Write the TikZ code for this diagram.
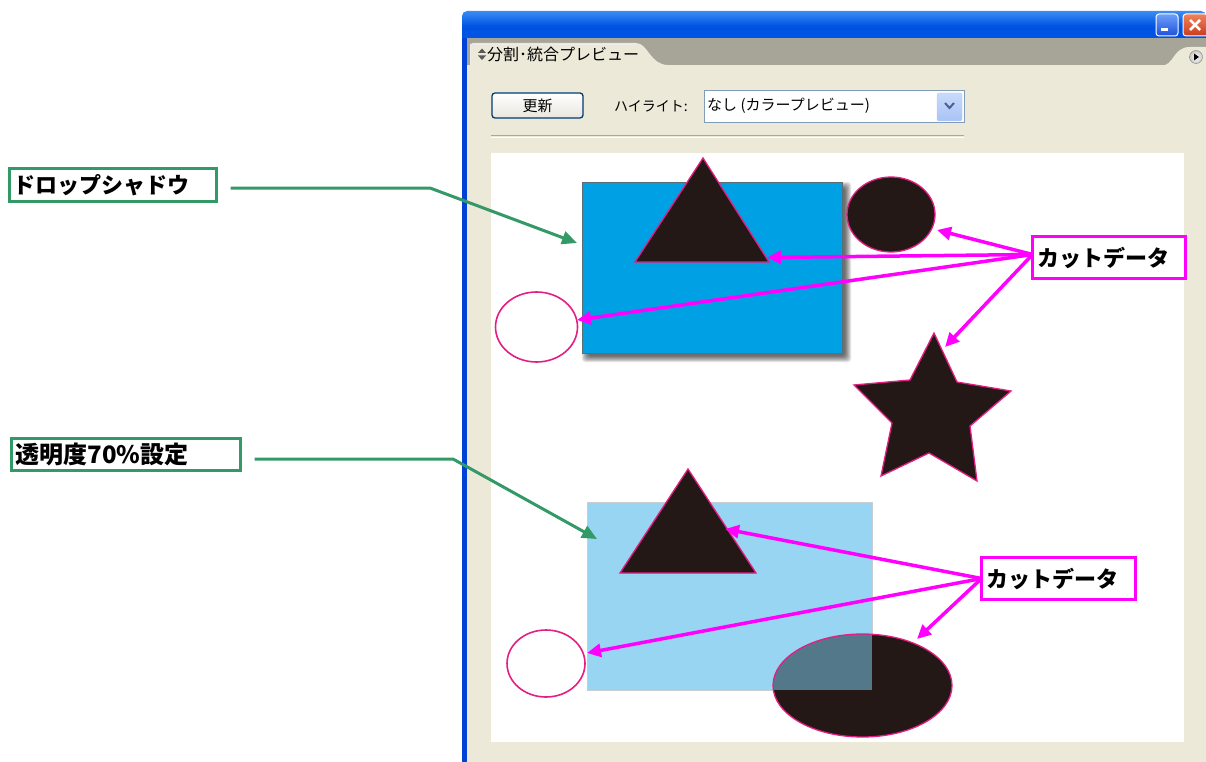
\documentclass[tikz,border=0pt]{standalone}
\usepackage{fontspec}
\newfontfamily\jp{Noto Sans CJK JP}
\usetikzlibrary{arrows.meta}
\definecolor{beige}{RGB}{236,233,216}
\definecolor{tabgray}{RGB}{167,165,152}
\definecolor{xpblue}{RGB}{0,84,227}
\definecolor{xpbluetop}{RGB}{60,140,245}
\definecolor{xpbluebot}{RGB}{0,66,214}
\definecolor{gline}{RGB}{51,153,102}
\definecolor{magenta1}{RGB}{255,0,255}
\definecolor{pinkedge}{RGB}{228,30,130}
\definecolor{inkblack}{RGB}{35,24,21}
\definecolor{cyanfill}{RGB}{0,160,228}
\definecolor{lightcyan}{RGB}{151,213,243}
\definecolor{overlapc}{RGB}{82,120,138}
\definecolor{btnborder}{RGB}{0,60,116}
\definecolor{ddborder}{RGB}{127,157,185}
\definecolor{sepgray}{RGB}{172,168,153}
\definecolor{minitop}{RGB}{110,160,250}
\definecolor{minibot}{RGB}{30,80,220}
\definecolor{closetop}{RGB}{240,130,90}
\definecolor{closebot}{RGB}{200,60,30}
\definecolor{circout}{RGB}{200,200,195}
\definecolor{btnbot}{RGB}{232,230,222}
\definecolor{ddbtntop}{RGB}{200,218,252}
\definecolor{ddbtnbot}{RGB}{170,195,245}
\definecolor{ddbtnedge}{RGB}{185,205,245}
\definecolor{chevron}{RGB}{77,97,152}
\definecolor{rectedge}{RGB}{90,110,120}
\definecolor{ltedge}{RGB}{200,205,210}
\tikzset{
  greenbox/.style={draw=gline, line width=3pt, fill=white, anchor=north west,
    outer sep=0pt, inner xsep=4pt, inner ysep=0pt, align=left},
  magbox/.style={draw=magenta1, line width=3pt, fill=white, anchor=north west,
    outer sep=0pt, inner xsep=5pt, inner ysep=0pt, align=left,
    font=\jp\bfseries\fontsize{22}{26}\selectfont},
  garrow/.style={draw=gline, line width=3pt, -{Triangle[length=15pt,width=13pt]}},
  marrow/.style={draw=magenta1, line width=3.5pt, -{Triangle[length=14pt,width=13pt]}},
  shapeedge/.style={draw=pinkedge, line width=1.3pt},
  uitext/.style={anchor=west, inner sep=0pt, text=black},
}
\begin{document}
\begin{tikzpicture}[x=1pt,y=-1pt]
\useasboundingbox (0,0) rectangle (1206,762);
\fill[white] (0,0) rectangle (1206,762);

% ---------- window frame ----------
\fill[beige] (467,38) rectangle (1206,762);
\fill[xpbluebot] (462,30) rectangle (467,762);
\shade[top color=xpbluetop, bottom color=xpbluebot, middle color=xpblue, rounded corners=5pt]
  (462,11) rectangle (1206,40);
\fill[xpblue] (462,30) rectangle (1206,38);
% title buttons
\shade[top color=minitop, bottom color=minibot,
  draw=white, line width=1pt, rounded corners=3pt] (1156,14) rectangle (1178,36);
\fill[white] (1161,28) rectangle (1168,31);
\shade[top color=closetop, bottom color=closebot,
  draw=white, line width=1pt, rounded corners=3pt] (1183,14) rectangle (1208,36);
\draw[white, line width=2.5pt] (1190,20) -- (1200,30) (1200,20) -- (1190,30);

% tab band
\fill[tabgray] (467,38) rectangle (1206,65);
\fill[beige] (470,65) -- (470,46) to[rounded corners=3pt] (470,43) -- (636,43)
  .. controls (648,43) and (650,65) .. (668,65) -- cycle;
\draw[white!85!gray, line width=0.8pt] (470,65) -- (470,44) -- (636,44);
\fill[beige] (1160,66) .. controls (1175,66) and (1172,47) .. (1190,47) -- (1206,47) -- (1206,66) -- cycle;
\shade[inner color=white, outer color=circout, draw=gray] (1196,57) circle (6.5);
\fill[black] (1194,53.5) -- (1199,57) -- (1194,60.5) -- cycle;
% tab icon and text
\fill[gray!70!black] (478,53) -- (486,53) -- (482,48.5) -- cycle;
\fill[gray!70!black] (478,55.5) -- (486,55.5) -- (482,60) -- cycle;
\node[uitext, font=\jp\fontsize{16}{18}\selectfont] (tabtext) at (487,54) {分割･統合プレビュー};

% button
\shade[top color=white, bottom color=btnbot, draw=btnborder,
  line width=1.3pt, rounded corners=3pt] (492,93) rectangle (583,118);
\node[font=\jp\fontsize{15}{17}\selectfont, inner sep=0pt] (update) at (537.5,106) {更新};
\node[uitext, font=\jp\fontsize{14}{16}\selectfont] (hl) at (614,106) {ハイライト:};
% dropdown
\draw[ddborder, fill=white, line width=1pt] (704,91) rectangle (964,123);
\shade[top color=ddbtntop, bottom color=ddbtnbot,
  draw=ddbtnedge, rounded corners=2pt] (937,93) rectangle (962,121);
\draw[chevron, line width=2pt] (945,103) -- (949.5,108) -- (954,103);
\node[uitext, font=\jp\fontsize{15}{17}\selectfont] (dd) at (707,106) {なし (カラープレビュー)};
% separator
\draw[sepgray, line width=1pt] (491,136) -- (964,136);
\draw[white, line width=1pt] (491,137.2) -- (964,137.2);

% ---------- preview area ----------
\fill[white] (491,153) rectangle (1184,742);

% drop shadow
\foreach \i in {0,1,...,6}{
  \fill[black, opacity=0.11, rounded corners=3pt]
    (582+\i,182+\i) rectangle (851-\i,362-\i);
}
\node[draw=rectedge, line width=0.8pt, fill=cyanfill,
  anchor=north west, minimum width=260pt, minimum height=171pt, inner sep=0pt, outer sep=0pt]
  (bluerect) at (582,182) {};
% triangle 1
\filldraw[fill=inkblack, shapeedge] (703,158) -- (769,262) -- (635,262) -- cycle;
% circle top right
\filldraw[fill=inkblack, shapeedge] (891,214.5) ellipse [x radius=44, y radius=37.5];
% open ellipse
\draw[shapeedge, line width=1.6pt] (536.5,327) ellipse [x radius=41, y radius=35];
% star
\filldraw[fill=inkblack, shapeedge] (934,333) -- (957,382) -- (1011,391) -- (970,426) -- (977,481)
  -- (929,453) -- (881,476) -- (892,423) -- (854,385) -- (910,380) -- cycle;

% transparent rect
\node[draw=ltedge, line width=0.8pt, fill=lightcyan,
  anchor=north west, minimum width=285pt, minimum height=188pt, inner sep=0pt, outer sep=0pt]
  (ltrect) at (587,502) {};
% triangle 2
\filldraw[fill=inkblack, shapeedge] (688,469) -- (756,573) -- (620,573) -- cycle;
% small open circle
\draw[shapeedge, line width=1.6pt] (546,663.5) ellipse [x radius=39, y radius=33.5];
% black ellipse with overlap
\fill[inkblack] (862.5,685.5) ellipse [x radius=89.5, y radius=51.5];
\begin{scope}
  \clip (862.5,685.5) ellipse [x radius=89.5, y radius=51.5];
  \fill[overlapc] (770,630) rectangle (872,690);
\end{scope}
\draw[shapeedge] (862.5,685.5) ellipse [x radius=89.5, y radius=51.5];

% ---------- labels ----------
\node[greenbox, text width=199pt, minimum height=33pt,
  font=\jp\bfseries\fontsize{22}{26}\selectfont] (ds) at (9.5,168.5) {ドロップシャドウ};
\node[greenbox, text width=221pt, minimum height=32pt,
  font=\jp\bfseries\fontsize{24}{28}\selectfont] (tr) at (11.5,438.5) {透明度70\%設定};
\node[magbox, text width=143pt, minimum height=42pt] (cd1) at (1032.5,236.5) {カットデータ};
\node[magbox, text width=144pt, minimum height=42pt] (cd2) at (981.5,557.5) {カットデータ};

% ---------- connector coordinates ----------
\coordinate (dsbend) at (430,188);
\coordinate (dstip) at (577,243);
\coordinate (trbend) at (453,459);
\coordinate (trtip) at (597,539);
\coordinate (tcirc) at (937,230);
\coordinate (ttri1) at (767,257.5);
\coordinate (topen1) at (577,320);
\coordinate (tstar) at (945,347);
\coordinate (ttri2) at (725,529);
\coordinate (topen2) at (587,653);
\coordinate (tell) at (917,639);

% green connectors
\draw[garrow, shorten <=14pt] ([yshift=-3pt]ds.east) -- (dsbend) -- (dstip);
\draw[garrow, shorten <=14pt] ([yshift=-4.5pt]tr.east) -- (trbend) -- (trtip);

% magenta connectors
\draw[marrow] ([yshift=3pt]cd1.west) -- (tcirc);
\draw[marrow] ([yshift=3pt]cd1.west) -- (ttri1);
\draw[marrow] ([yshift=3pt]cd1.west) -- (topen1);
\draw[marrow] ([yshift=3pt]cd1.west) -- (tstar);
\draw[marrow] (cd2.west) -- (ttri2);
\draw[marrow] (cd2.west) -- (topen2);
\draw[marrow] (cd2.west) -- (tell);
\end{tikzpicture}
\end{document}
